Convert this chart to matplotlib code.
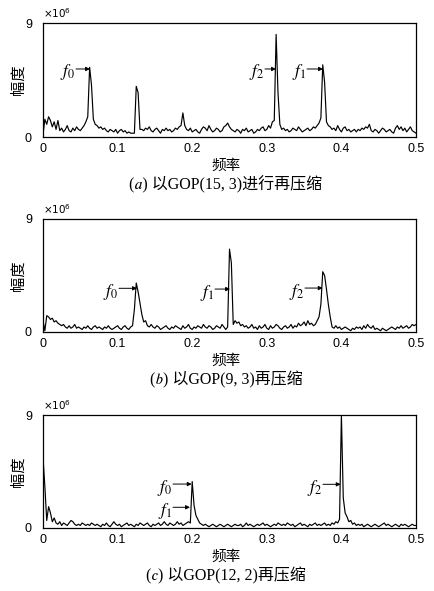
import numpy as np
import matplotlib
matplotlib.use("Agg")
import matplotlib.pyplot as plt

plt.rcParams['font.family'] = ['Liberation Sans', 'Noto Sans CJK SC']
plt.rcParams['mathtext.fontset'] = 'stix'

# amplitude spectra (x10^6), frequency step 0.0025 from 0 to 0.5
amp_a = [
    0.2, 1.4, 1.0, 1.6, 1.3, 0.8, 1.2, 0.6, 1.3, 0.5,   # 0
    0.7, 0.4, 0.6, 0.9, 0.5, 0.4, 0.7, 0.5, 0.8, 0.6,   # 10
    0.5, 0.7, 0.9, 1.2, 1.6, 5.5, 4.1, 1.4, 1.0, 0.9,   # 20
    0.7, 0.8, 0.6, 0.7, 0.5, 0.4, 0.6, 0.5, 0.4, 0.6,   # 30
    0.3, 0.5, 0.6, 0.4, 0.5, 0.3, 0.4, 0.3, 0.3, 0.3,   # 40
    4.0, 3.5, 0.6, 0.6, 0.5, 0.7, 0.6, 0.8, 0.5, 0.4,   # 50
    0.6, 0.7, 0.5, 0.3, 0.6, 0.5, 0.7, 0.5, 0.6, 0.4,   # 60
    0.5, 0.7, 0.6, 0.8, 0.9, 1.9, 0.9, 0.6, 0.5, 0.7,   # 70
    0.4, 0.5, 0.6, 0.4, 0.3, 0.6, 0.8, 0.7, 0.5, 0.9,   # 80
    0.6, 0.4, 0.5, 0.7, 0.6, 0.4, 0.5, 0.8, 0.9, 1.1,   # 90
    0.8, 0.6, 0.5, 0.4, 0.6, 0.5, 0.3, 0.6, 0.5, 0.7,   # 100
    0.4, 0.5, 0.6, 0.3, 0.4, 0.6, 0.5, 0.7, 0.8, 0.5,   # 110
    0.6, 0.9, 0.7, 1.2, 1.3, 8.1, 3.5, 1.0, 0.6, 0.7,   # 120
    0.5, 0.6, 0.4, 0.5, 0.7, 0.6, 0.5, 0.8, 0.6, 0.4,   # 130
    0.5, 0.6, 0.7, 0.5, 0.6, 0.8, 0.7, 0.9, 1.1, 1.5,   # 140
    5.7, 4.3, 1.2, 0.9, 0.8, 0.6, 0.7, 0.5, 0.9, 0.6,   # 150
    0.4, 0.7, 0.8, 0.5, 0.6, 0.4, 0.5, 0.6, 0.4, 0.6,   # 160
    0.5, 0.7, 0.6, 0.8, 0.7, 1.0, 0.5, 0.4, 0.6, 0.5,   # 170
    0.3, 0.5, 0.7, 0.6, 0.4, 0.5, 0.6, 0.4, 0.3, 0.7,   # 180
    0.9, 0.6, 0.8, 0.5, 0.7, 0.4, 0.6, 0.8, 0.5, 0.4,   # 190
    0.3,
]

amp_b = [
    0.9, 0.1, 1.3, 1.2, 1.0, 1.1, 0.8, 0.9, 0.7, 0.6,   # 0
    0.5, 0.6, 0.4, 0.3, 0.5, 0.3, 0.4, 0.6, 0.3, 0.4,   # 10
    0.3, 0.2, 0.4, 0.3, 0.5, 0.3, 0.2, 0.4, 0.5, 0.3,   # 20
    0.4, 0.3, 0.2, 0.4, 0.3, 0.5, 0.3, 0.2, 0.3, 0.4,   # 30
    0.5, 0.3, 0.2, 0.4, 0.5, 0.3, 0.2, 0.4, 0.5, 1.8,   # 40
    3.9, 3.2, 2.3, 1.4, 0.8, 0.9, 0.5, 0.4, 0.6, 0.4,   # 50
    0.3, 0.5, 0.4, 0.2, 0.3, 0.4, 0.5, 0.3, 0.2, 0.4,   # 60
    0.3, 0.5, 0.4, 0.3, 0.2, 0.5, 0.3, 0.4, 0.6, 0.3,   # 70
    0.2, 0.4, 0.3, 0.5, 0.4, 0.3, 0.6, 0.4, 0.3, 0.5,   # 80
    0.4, 0.2, 0.3, 0.5, 0.4, 0.3, 0.6, 0.4, 0.2, 0.4,   # 90
    6.6, 5.5, 0.6, 0.9, 0.7, 0.8, 0.5, 0.6, 0.4, 0.5,   # 100
    0.3, 0.4, 0.6, 0.3, 0.4, 0.2, 0.5, 0.3, 0.4, 0.6,   # 110
    0.3, 0.2, 0.5, 0.3, 0.4, 0.6, 0.5, 0.3, 0.2, 0.4,   # 120
    0.5, 0.3, 0.4, 0.6, 0.3, 0.5, 0.4, 0.7, 0.5, 0.6,   # 130
    0.8, 0.5, 0.9, 0.6, 0.7, 0.5, 0.6, 0.9, 1.2, 2.2,   # 140
    4.8, 4.5, 3.4, 2.2, 1.2, 0.4, 0.3, 0.5, 0.3, 0.4,   # 150
    0.2, 0.3, 0.4, 0.3, 0.2, 0.1, 0.3, 0.2, 0.4, 0.3,   # 160
    0.4, 0.2, 0.5, 0.3, 0.6, 0.4, 0.3, 0.5, 0.2, 0.3,   # 170
    0.2, 0.1, 0.3, 0.2, 0.1, 0.2, 0.3, 0.4, 0.3, 0.2,   # 180
    0.4, 0.3, 0.5, 0.3, 0.4, 0.5, 0.3, 0.4, 0.6, 0.5,   # 190
    0.6,
]

amp_c = [
    5.6, 3.3, 0.6, 1.7, 1.2, 0.5, 0.8, 0.4, 0.3, 0.5,   # 0
    0.2, 0.4, 0.3, 0.2, 0.4, 0.6, 0.5, 0.3, 0.2, 0.3,   # 10
    0.2, 0.4, 0.3, 0.2, 0.3, 0.2, 0.4, 0.3, 0.2, 0.3,   # 20
    0.2, 0.1, 0.3, 0.2, 0.4, 0.2, 0.1, 0.3, 0.5, 0.3,   # 30
    0.2, 0.3, 0.1, 0.2, 0.3, 0.4, 0.2, 0.3, 0.2, 0.1,   # 40
    0.3, 0.2, 0.4, 0.3, 0.2, 0.3, 0.4, 0.2, 0.1, 0.3,   # 50
    0.2, 0.3, 0.4, 0.2, 0.3, 0.5, 0.3, 0.2, 0.4, 0.3,   # 60
    0.2, 0.3, 0.5, 0.3, 0.4, 0.2, 0.3, 0.4, 0.5, 0.4,   # 70
    3.7, 1.8, 1.0, 0.7, 0.4, 0.3, 0.2, 0.3, 0.2, 0.1,   # 80
    0.2, 0.3, 0.2, 0.1, 0.2, 0.3, 0.2, 0.1, 0.2, 0.3,   # 90
    0.2, 0.1, 0.2, 0.3, 0.2, 0.2, 0.3, 0.1, 0.2, 0.4,   # 100
    0.2, 0.3, 0.2, 0.1, 0.2, 0.3, 0.2, 0.3, 0.4, 0.2,   # 110
    0.3, 0.2, 0.1, 0.2, 0.3, 0.2, 0.4, 0.3, 0.2, 0.3,   # 120
    0.2, 0.4, 0.3, 0.2, 0.3, 0.1, 0.2, 0.3, 0.4, 0.2,   # 130
    0.3, 0.2, 0.1, 0.3, 0.2, 0.3, 0.4, 0.2, 0.3, 0.2,   # 140
    0.3, 0.4, 0.2, 0.3, 0.2, 0.4, 0.3, 0.5, 0.4, 0.7,   # 150
    9.0, 2.4, 1.2, 0.9, 0.5, 0.6, 0.3, 0.4, 0.2, 0.3,   # 160
    0.2, 0.3, 0.1, 0.2, 0.3, 0.2, 0.1, 0.2, 0.3, 0.2,   # 170
    0.1, 0.2, 0.3, 0.4, 0.2, 0.3, 0.2, 0.1, 0.2, 0.3,   # 180
    0.2, 0.1, 0.3, 0.2, 0.3, 0.2, 0.1, 0.2, 0.3, 0.2,   # 190
    0.2,
]

captions = ['以GOP(15, 3)进行再压缩', '以GOP(9, 3)再压缩', '以GOP(12, 2)再压缩']
letters = ['\U0001D44E', '\U0001D44F', '\U0001D450']   # italic a, b, c

# arrow labels: (label, tip x, tip y, tail x)
marks_a = [('0', 0.0630, 5.37, 0.0442), ('2', 0.3123, 5.37, 0.2976), ('1', 0.3753, 5.37, 0.3540)]
marks_b = [('0', 0.1260, 3.48, 0.1019), ('1', 0.2507, 3.42, 0.2306), ('2', 0.3749, 3.50, 0.3512)]
marks_c = [('0', 0.1993, 3.50, 0.1743), ('1', 0.1970, 1.65, 0.1743), ('2', 0.3990, 3.48, 0.3753)]

W, H = 434, 591
fig = plt.figure(figsize=(W / 100, H / 100), dpi=100)

boxes = [(43, 23, 416, 137), (43, 219, 416, 332), (43, 415, 416, 528)]
series = [amp_a, amp_b, amp_c]
marks = [marks_a, marks_b, marks_c]

for k in range(3):
    l, t, r, b = boxes[k]
    ax = fig.add_axes([l / W, 1 - b / H, (r - l) / W, (b - t) / H])
    amp = np.array(series[k])
    freq = np.linspace(0, 0.5, len(amp))
    ax.plot(freq, amp, color='k', lw=0.85)
    ax.set_xlim(0, 0.5)
    ax.set_ylim(0, 9)
    ax.set_xticks([0, 0.1, 0.2, 0.3, 0.4, 0.5])
    ax.set_xticklabels(['0', '0.1', '0.2', '0.3', '0.4', '0.5'])
    ax.set_yticks([0, 9])
    ax.tick_params(length=0, labelsize=9)
    ax.tick_params(axis='x', pad=4)
    ax.tick_params(axis='y', pad=8)
    for s in ax.spines.values():
        s.set_linewidth(0.9)
    ax.text(0, 1.03, r'$\times10^6$', transform=ax.transAxes, fontsize=7.5,
            math_fontfamily='dejavusans', ha='left', va='bottom')

    for lab, xt, yt, x0 in marks[k]:
        ax.annotate('', xy=(xt, yt), xytext=(x0, yt),
                    arrowprops=dict(arrowstyle='-|>', color='k', lw=0.7,
                                    mutation_scale=6, shrinkA=0, shrinkB=0))
        ax.annotate(r'$f_{%s}$' % lab, xy=(x0, yt), xytext=(-0.5, -2.5),
                    textcoords='offset points', ha='right', va='center', fontsize=12.5)

    fig.text(19 / W, 1 - (t + b) / 2 / H, '幅度', rotation=90, ha='center', va='center',
             fontsize=11)
    fig.text(226 / W, 1 - (b + 29) / H, '频率', ha='center', va='center', fontsize=10.5)
    fig.text(226 / W, 1 - (b + 48) / H, '(' + letters[k] + ') ' + captions[k],
             ha='center', va='center', fontsize=11.5,
             family=['Liberation Serif', 'Noto Sans CJK SC', 'STIXGeneral'])

fig.savefig('out.png', dpi=100)
